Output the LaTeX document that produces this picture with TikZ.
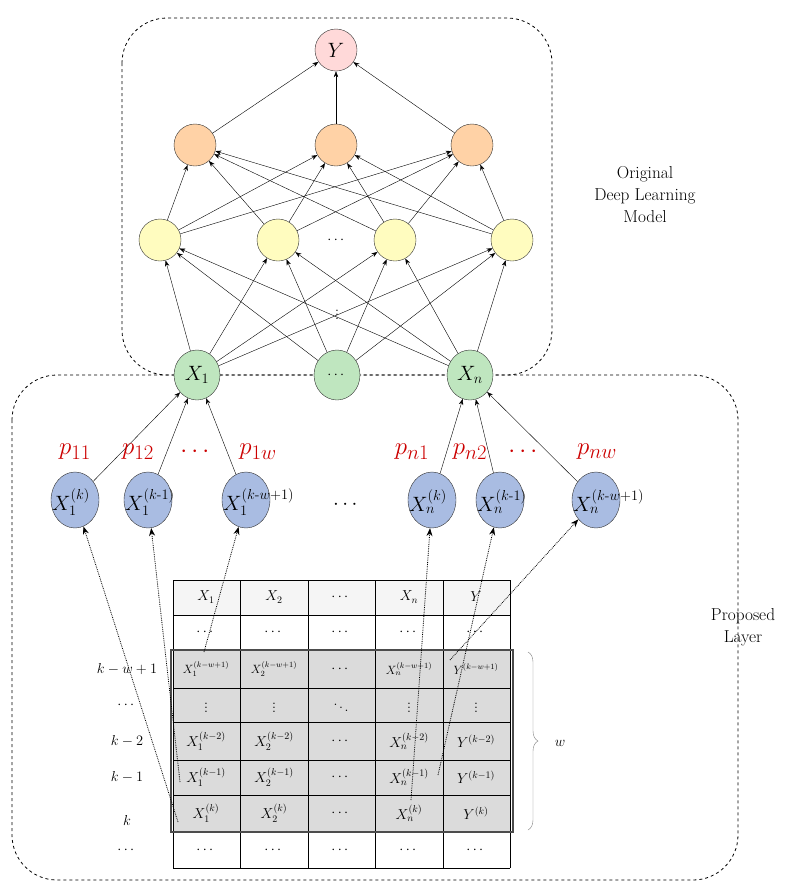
\documentclass[tikz,border=0pt]{standalone}
\usepackage{amsmath}
\usetikzlibrary{arrows.meta,decorations.pathreplacing,shapes.geometric}
\definecolor{bluec}{HTML}{A9BCE2}
\begin{document}
\begin{tikzpicture}[x=1pt,y=-1pt,
  neu/.style={circle,draw=black!80,minimum size=42pt,inner sep=0pt,font=\huge},
  grn/.style={ellipse,draw=black!80,fill=green!60!black!25,minimum width=46pt,minimum height=50pt,inner sep=0pt,font=\huge},
  blu/.style={ellipse,draw=black!80,fill=bluec,minimum width=48pt,minimum height=56pt,inner sep=0pt},
  btxt/.style={anchor=west,inner sep=0pt,font=\huge},
  con/.style={-{Stealth[length=6pt]},thin},
  dot/.style={-{Stealth[length=8pt]},densely dotted,thick},
  box/.style={dashed,thick,black,rounded corners=45pt},
  pl/.style={red!80!black,font=\Huge},
  cell/.style={font=\Large,inner sep=0pt}]
\useasboundingbox (0,0) rectangle (807,895);
% boxes
\draw[box] (122,18) rectangle (552,375);
\draw[box] (12,375) rectangle (738,880);
% nodes
\node[neu,fill=red!15] (Y) at (336,50) {$Y$};
\node[neu,fill=orange!35] (o1) at (195,145) {};
\node[neu,fill=orange!35] (o2) at (336,145) {};
\node[neu,fill=orange!35] (o3) at (472,145) {};
\node[neu,fill=yellow!25] (y1) at (160,240) {};
\node[neu,fill=yellow!25] (y2) at (278,240) {};
\node[neu,fill=yellow!25] (y3) at (395,240) {};
\node[neu,fill=yellow!25] (y4) at (512,240) {};
\node[font=\Large] (yd) at (337,240) {$\cdots$};
\node[font=\Large,inner sep=0pt] (vd) at (337,312) {$\vdots$};
\node[grn] (g1) at (197,375) {$X_1$};
\node[grn,font=\Large] (g2) at (337,375) {$\cdots$};
\node[grn] (g3) at (470,375) {$X_n$};
\foreach \o in {o1,o2,o3} \draw[con] (\o) -- (Y);
\foreach \y in {y1,y2,y3,y4} \foreach \o in {o1,o2,o3} \draw[con] (\y) -- (\o);
\foreach \g in {g1,g2,g3} \foreach \y in {y1,y2,y3,y4} \draw[con] (\g) -- (\y);
% text
\node[align=center,font=\LARGE] (odl) at (645,195) {Original\\Deep Learning\\Model};
\node[align=center,font=\LARGE] (pl) at (743,627) {Proposed\\Layer};
% blue nodes
\node[blu] (b1) at (75,500) {};
\node[blu] (b2) at (148,500) {};
\node[blu] (b3) at (246,500) {};
\node[blu] (b4) at (432,500) {};
\node[blu] (b5) at (500,500) {};
\node[blu] (b6) at (596,500) {};
\node[btxt] (t1) at (52,502) {$X_1^{(k)}$};
\node[btxt] (t2) at (125,502) {$X_1^{(k\text{-}1)}$};
\node[btxt] (t3) at (223,502) {$X_1^{(k\text{-}w+1)}$};
\node[btxt] (t4) at (409,502) {$X_n^{(k)}$};
\node[btxt] (t5) at (477,502) {$X_n^{(k\text{-}1)}$};
\node[btxt] (t6) at (573,502) {$X_n^{(k\text{-}w+1)}$};
\node[font=\huge] (bd) at (347,505) {$\cdots$};
\foreach \b in {b1,b2,b3} \draw[con] (\b) -- (g1);
\foreach \b in {b4,b5,b6} \draw[con] (\b) -- (g3);
\node[pl] (p1) at (75,452) {$p_{11}$};
\node[pl] (p2) at (138,452) {$p_{12}$};
\node[pl] (p3) at (197,452) {$\cdots$};
\node[pl] (p4) at (258,452) {$p_{1w}$};
\node[pl] (p5) at (412,452) {$p_{n1}$};
\node[pl] (p6) at (470,452) {$p_{n2}$};
\node[pl] (p7) at (525,452) {$\cdots$};
\node[pl] (p8) at (597,452) {$p_{nw}$};
% table
\fill[gray!8] (173,580) rectangle (510,615);
\fill[gray!28] (173,650) rectangle (510,832);
\foreach \yy in {580,615,650,688,722,760,795,832,868} \draw (173,\yy) -- (510,\yy);
\foreach \xx in {173,240,308,375,443,510} \draw (\xx,580) -- (\xx,868);
\draw[line width=2.5pt,black!70] (171,650) rectangle (513,832);
\node[cell] (h1) at (206,597) {$X_1$};
\node[cell] (h2) at (274,597) {$X_2$};
\node[cell] (h3) at (341,597) {$\cdots$};
\node[cell] (h4) at (409,597) {$X_n$};
\node[cell] (h5) at (476,597) {$Y$};
\foreach \x in {206,274,341,409,476} {\node[cell] at (\x,632) {$\cdots$}; \node[cell] at (\x,850) {$\cdots$};}
\node[cell,font=\large] (r1c1) at (206,669) {$X_1^{(k-w+1)}$};
\node[cell,font=\large] (r1c2) at (274,669) {$X_2^{(k-w+1)}$};
\node[cell] at (341,669) {$\cdots$};
\node[cell,font=\large] (r1c4) at (409,669) {$X_n^{(k-w+1)}$};
\node[cell,font=\large] (r1c5) at (476,669) {$Y^{(k-w+1)}$};
\foreach \x in {206,274,409,476} \node[cell] at (\x,705) {$\vdots$};
\node[cell] at (341,705) {$\ddots$};
\node[cell] (r3c1) at (206,741) {$X_1^{(k-2)}$};
\node[cell] at (274,741) {$X_2^{(k-2)}$};
\node[cell] at (341,741) {$\cdots$};
\node[cell] at (409,741) {$X_n^{(k-2)}$};
\node[cell] at (476,741) {$Y^{(k-2)}$};
\node[cell] (r4c1) at (206,777) {$X_1^{(k-1)}$};
\node[cell] at (274,777) {$X_2^{(k-1)}$};
\node[cell] at (341,777) {$\cdots$};
\node[cell] (r4c4) at (409,777) {$X_n^{(k-1)}$};
\node[cell] at (476,777) {$Y^{(k-1)}$};
\node[cell] (r5c1) at (206,813) {$X_1^{(k)}$};
\node[cell] at (274,813) {$X_2^{(k)}$};
\node[cell] at (341,813) {$\cdots$};
\node[cell] (r5c4) at (409,813) {$X_n^{(k)}$};
\node[cell] at (476,813) {$Y^{(k)}$};
% row labels
\node[cell] at (127,669) {$k-w+1$};
\node[cell] at (127,705) {$\cdots$};
\node[cell] at (127,741) {$k-2$};
\node[cell] at (127,777) {$k-1$};
\node[cell] at (127,820) {$k$};
\node[cell] at (127,850) {$\cdots$};
\draw[decorate,decoration={brace,amplitude=10pt},gray] (528,652) -- (528,830);
\node[cell] (wl) at (560,743) {$w$};
% dotted arrows
\coordinate (s1) at (178,822);
\coordinate (s2) at (180,782);
\coordinate (s3) at (204,652);
\coordinate (s4) at (411,800);
\coordinate (s5) at (438,775);
\coordinate (s6) at (450,660);
\draw[dot] (s1) -- (b1);
\draw[dot] (s2) -- (b2);
\draw[dot] (s3) -- (b3);
\draw[dot] (s4) -- (b4);
\draw[dot] (s5) -- (b5);
\draw[dot] (s6) -- (b6);
\end{tikzpicture}
\end{document}
